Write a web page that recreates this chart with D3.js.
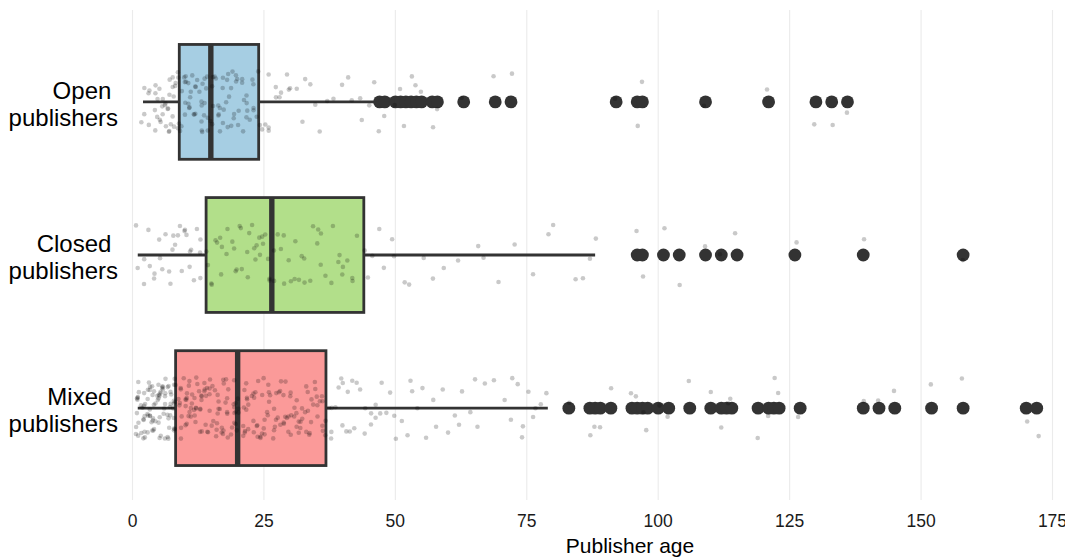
<!DOCTYPE html>
<html>
<head>
<meta charset="utf-8">
<script src="https://cdn.jsdelivr.net/npm/d3@7"></script>
<style>
  body { margin: 0; background: #fff; }
  svg { display: block; font-family: "Liberation Sans", Arial, Helvetica, sans-serif; }
</style>
</head>
<body>
<div id="chart"></div>
<script>
// Categories, top to bottom
const groups = ["Open", "Closed", "Mixed"];
const groupLabels = [["Open ", "publishers"], ["Closed ", "publishers"], ["Mixed ", "publishers"]];
const boxColors = ["#a6cee3", "#b2df8a", "#fb9a99"];

// Box statistics (Open, Closed, Mixed)
const whiskerLow = [2, 1, 1];
const q1 = [8.9, 14, 8.2];
const medians = [14.9, 26.5, 20];
const q3 = [24, 44, 36.8];
const whiskerHigh = [46, 88, 79];

// Outliers
const openOutliers = [47, 48, 50, 51, 52, 53, 54, 55, 57, 58, 63, 69, 72, 92, 96, 97, 109, 121, 130, 133, 136];
const closedOutliers = [96, 97, 101, 104, 109, 112, 115, 126, 139, 158];
const mixedOutliers = [83, 87, 88, 89, 91, 95, 96, 97, 98, 100, 102, 106, 110, 112, 113, 114,
  119, 121, 122, 123, 127, 139, 142, 145, 152, 158, 170, 172];

// All publisher ages (jittered points)
const openAges = [2, 2, 2, 3, 3, 3, 4, 4, 4, 4, 5, 5, 5, 5, 5, 6, 6, 6, 6, 6, 6, 7, 7, 7, 7, 7, 7, 7,
  8, 8, 8, 8, 8, 8, 8, 9, 9, 9, 9, 9, 9, 9, 10, 10, 10, 10, 10, 10, 11, 11, 11, 11, 11, 11, 11,
  12, 12, 12, 12, 12, 12, 13, 13, 13, 13, 13, 13, 13, 14, 14, 14, 14, 14, 14, 14, 15, 15, 15, 15, 15,
  16, 16, 16, 16, 16, 17, 17, 17, 17, 17, 17, 18, 18, 18, 18, 18, 19, 19, 19, 19, 19, 20, 20, 20, 20, 20,
  21, 21, 21, 21, 22, 22, 22, 22, 22, 23, 23, 23, 23, 24, 24, 24,
  25, 25, 26, 26, 26, 27, 27, 28, 28, 29, 30, 30, 31, 32, 33, 34, 35, 36, 37, 38, 40, 41, 42, 43, 44, 45, 46,
  47, 48, 50, 51, 52, 53, 54, 55, 57, 58, 63, 69, 72, 92, 96, 97, 109, 121, 130, 133, 136];

const closedAges = [1, 1, 2, 2, 3, 3, 4, 4, 5, 5, 6, 6, 7, 7, 8, 8, 8, 9, 9, 9, 10, 10, 10, 11, 11, 11, 12, 12, 13, 13, 13, 14,
  14, 15, 15, 16, 16, 17, 17, 17, 18, 18, 19, 19, 20, 20, 20, 21, 21, 22, 22, 22, 23, 23, 23, 24, 24, 24, 25, 25, 25, 26, 26, 26,
  27, 27, 28, 28, 29, 29, 30, 30, 31, 31, 32, 32, 33, 33, 34, 34, 35, 35, 36, 36, 37, 38, 38, 39, 39, 40, 40, 41, 42, 42, 43, 44,
  45, 46, 47, 48, 49, 50, 52, 53, 55, 57, 59, 62, 66, 67, 70, 73, 76, 79, 80, 84, 86, 87, 88,
  96, 97, 101, 104, 109, 112, 115, 126, 139, 158];

const mixedAges = [1, 1, 1, 1, 1, 1, 1, 1, 1, 1, 1, 2, 2, 2, 2, 2, 2, 2, 2, 2, 2, 2, 2, 3, 3, 3, 3, 3, 3, 3, 3, 3, 3, 3,
  4, 4, 4, 4, 4, 4, 4, 4, 4, 4, 4, 4, 5, 5, 5, 5, 5, 5, 5, 5, 5, 5, 5, 5, 6, 6, 6, 6, 6, 6, 6, 6, 6, 6, 6,
  7, 7, 7, 7, 7, 7, 7, 7, 7, 7, 7, 7, 8, 8, 8, 8, 8, 8, 8, 8, 8, 8, 8,
  9, 9, 9, 9, 9, 9, 9, 9, 10, 10, 10, 10, 10, 10, 10, 10, 11, 11, 11, 11, 11, 11, 11, 11, 12, 12, 12, 12, 12, 12, 12, 12,
  13, 13, 13, 13, 13, 13, 13, 13, 14, 14, 14, 14, 14, 14, 14, 14, 15, 15, 15, 15, 15, 15, 15, 16, 16, 16, 16, 16, 16, 16, 16,
  17, 17, 17, 17, 17, 17, 17, 18, 18, 18, 18, 18, 18, 18, 19, 19, 19, 19, 19, 19, 19, 20, 20, 20, 20, 20, 20, 20,
  21, 21, 21, 21, 21, 21, 22, 22, 22, 22, 22, 22, 23, 23, 23, 23, 23, 23, 24, 24, 24, 24, 24, 24, 25, 25, 25, 25, 25, 25,
  26, 26, 26, 26, 26, 26, 27, 27, 27, 27, 27, 27, 28, 28, 28, 28, 28, 29, 29, 29, 29, 29, 29, 30, 30, 30, 30, 30, 30,
  31, 31, 31, 31, 31, 32, 32, 32, 32, 32, 32, 33, 33, 33, 33, 33, 34, 34, 34, 34, 34, 35, 35, 35, 35, 35, 36, 36, 36, 36, 36,
  37, 37, 37, 38, 38, 38, 39, 39, 40, 40, 40, 41, 41, 41, 42, 42, 43, 43, 44, 44, 45, 45, 46, 46, 47, 47, 48, 49, 50, 50, 51,
  52, 53, 53, 54, 55, 56, 57, 58, 59, 60, 61, 62, 63, 64, 65, 66, 67, 69, 71, 72, 72, 73, 74, 74, 75, 76, 77, 78, 79,
  83, 87, 88, 89, 91, 95, 96, 97, 98, 100, 102, 106, 110, 112, 113, 114,
  119, 121, 122, 123, 127, 139, 142, 145, 152, 158, 170, 172];

const xTicks = [0, 25, 50, 75, 100, 125, 150, 175];

const allAges = [openAges, closedAges, mixedAges];
const allOutliers = [openOutliers, closedOutliers, mixedOutliers];

const width = 1065, height = 559;
const svg = d3.select("#chart").append("svg")
    .attr("width", width)
    .attr("height", height);

svg.append("rect").attr("width", width).attr("height", height).attr("fill", "#fff");

const panelTop = 10, panelBottom = 500;

const x = d3.scaleLinear().domain([0, 175]).range([132.5, 1052.5]);
const y = d3.scalePoint().domain(groups).range([panelTop, panelBottom]).padding(0.6);
const boxH = y.step() * 0.75;

// vertical grid lines
svg.append("g")
    .selectAll("line")
    .data(xTicks)
    .join("line")
    .attr("x1", d => x(d)).attr("x2", d => x(d))
    .attr("y1", panelTop).attr("y2", panelBottom)
    .attr("stroke", "#ebebeb")
    .attr("stroke-width", 1.1);

// boxplots
const boxes = svg.append("g")
    .selectAll("g")
    .data(groups)
    .join("g");

boxes.append("line")
    .attr("x1", (d, i) => x(whiskerLow[i])).attr("x2", (d, i) => x(q1[i]))
    .attr("y1", d => y(d)).attr("y2", d => y(d))
    .attr("stroke", "#333").attr("stroke-width", 2.8);

boxes.append("line")
    .attr("x1", (d, i) => x(q3[i])).attr("x2", (d, i) => x(whiskerHigh[i]))
    .attr("y1", d => y(d)).attr("y2", d => y(d))
    .attr("stroke", "#333").attr("stroke-width", 2.8);

boxes.append("rect")
    .attr("x", (d, i) => x(q1[i]))
    .attr("width", (d, i) => x(q3[i]) - x(q1[i]))
    .attr("y", d => y(d) - boxH / 2)
    .attr("height", boxH)
    .attr("fill", (d, i) => boxColors[i])
    .attr("stroke", "#333")
    .attr("stroke-width", 2.8);

boxes.append("line")
    .attr("x1", (d, i) => x(medians[i])).attr("x2", (d, i) => x(medians[i]))
    .attr("y1", d => y(d) - boxH / 2).attr("y2", d => y(d) + boxH / 2)
    .attr("stroke", "#333").attr("stroke-width", 5.4);

boxes.each(function(d, i) {
    d3.select(this).selectAll("circle")
        .data(allOutliers[i])
        .join("circle")
        .attr("cx", v => x(v))
        .attr("cy", y(d))
        .attr("r", 6.4)
        .attr("fill", "#333");
});

// jittered raw points: deterministic hash offsets (display only)
const hash = (i, s) => { const t = Math.sin(i * 127.1 + s * 311.7) * 43758.5453; return t - Math.floor(t); };
groups.forEach((g, gi) => {
    svg.append("g")
        .selectAll("circle")
        .data(allAges[gi])
        .join("circle")
        .attr("cx", (v, i) => x(v + 0.4 * (2 * hash(i, gi + 1) - 1)))
        .attr("cy", (v, i) => y(g) + 0.2 * y.step() * (2 * hash(i, gi + 7.3) - 1))
        .attr("r", 2.3)
        .attr("fill", "#000")
        .attr("fill-opacity", 0.21);
});

// x axis tick labels
svg.append("g")
    .selectAll("text")
    .data(xTicks)
    .join("text")
    .attr("x", d => x(d))
    .attr("y", 527)
    .attr("text-anchor", "middle")
    .attr("font-size", "17.5px")
    .attr("fill", "#1a1a1a")
    .text(d => d);

svg.append("text")
    .attr("x", 630)
    .attr("y", 553)
    .attr("text-anchor", "middle")
    .attr("font-size", "21px")
    .attr("fill", "#000")
    .text("Publisher age");

// y category labels
const ylab = svg.append("g")
    .selectAll("text")
    .data(groups)
    .join("text")
    .attr("text-anchor", "end")
    .attr("font-size", "24px")
    .attr("fill", "#000")
    .style("white-space", "pre");

ylab.append("tspan")
    .attr("x", 118)
    .attr("y", d => y(d) - 3)
    .text((d, i) => groupLabels[i][0]);

ylab.append("tspan")
    .attr("x", 118)
    .attr("y", d => y(d) + 24)
    .text((d, i) => groupLabels[i][1]);
</script>
</body>
</html>
